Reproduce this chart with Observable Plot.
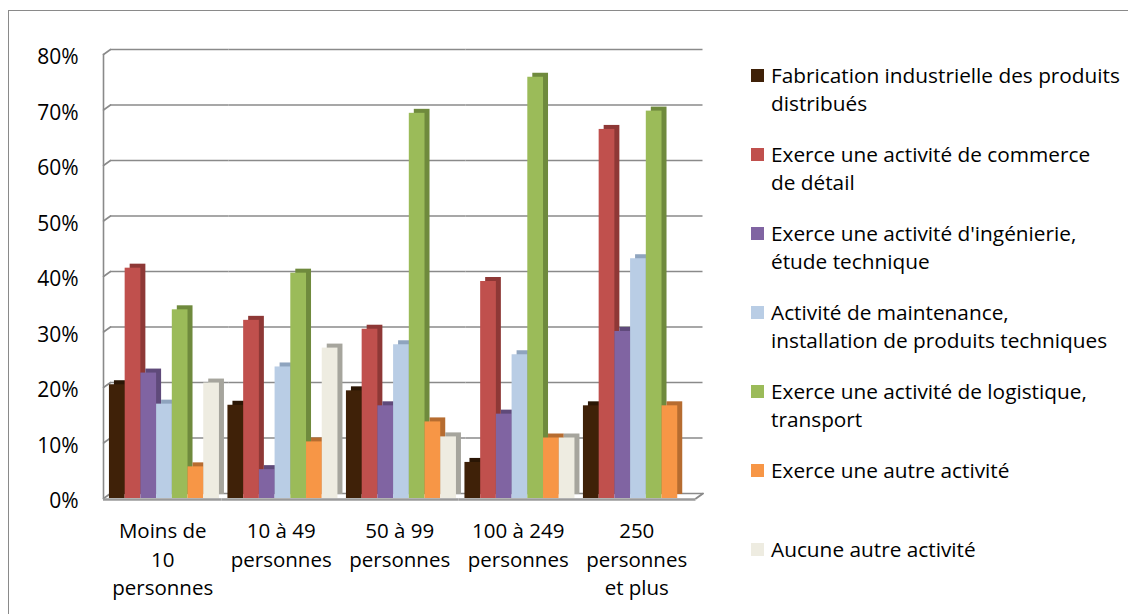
<!DOCTYPE html>
<html>
<head>
<meta charset="utf-8">
<script src="https://cdn.jsdelivr.net/npm/d3@7"></script>
<script src="https://cdn.jsdelivr.net/npm/@observablehq/plot@0.6"></script>
<style>
  html, body { margin: 0; padding: 0; background: #fff; }
  #wrap { position: relative; width: 1128px; height: 614px; overflow: hidden; font-family: "Open Sans", Lato, sans-serif; }
  #wrap > * { position: absolute; }
  .border { left: 8px; top: 10px; width: 1300px; height: 800px; border-left: 1.5px solid #8a8a8a; border-top: 1.5px solid #8a8a8a; }
  .legend-item { font-size: 20.8px; line-height: 28px; color: #000; white-space: pre; }
  .swatch { width: 13px; height: 13px; }
</style>
</head>
<body>
<div id="wrap"></div>
<script>
// ---- data ----
const categories = ["Moins de 10 personnes", "10 à 49 personnes", "50 à 99 personnes", "100 à 249 personnes", "250 personnes et plus"];
const categoryLabels = ["Moins de\n10\npersonnes", "10 à 49\npersonnes", "50 à 99\npersonnes", "100 à 249\npersonnes", "250\npersonnes\net plus"];
const seriesNames = [
  "Fabrication industrielle des produits distribués",
  "Exerce une activité de commerce de détail",
  "Exerce une activité d'ingénierie, étude technique",
  "Activité de maintenance, installation de produits techniques",
  "Exerce une activité de logistique, transport",
  "Exerce une autre activité",
  "Aucune autre activité"
];
const legendLabels = [
  "Fabrication industrielle des produits\ndistribués",
  "Exerce une activité de commerce\nde détail",
  "Exerce une activité d'ingénierie,\nétude technique",
  "Activité de maintenance,\ninstallation de produits techniques",
  "Exerce une activité de logistique,\ntransport",
  "Exerce une autre activité",
  "Aucune autre activité"
];
const fabrication = [20.5, 16.8, 19.4, 6.5, 16.7];
const commerce    = [41.5, 32.1, 30.5, 39.1, 66.5];
const ingenierie  = [22.6, 5.2, 16.7, 15.2, 30.1];
const maintenance = [17.0, 23.7, 27.7, 25.9, 43.2];
const logistique  = [34.0, 40.6, 69.4, 75.9, 69.8];
const autre       = [5.7, 10.2, 13.8, 10.9, 16.7];
const aucune      = [20.8, 27.1, 11.1, 10.9, 0];
const yTicks = [0, 10, 20, 30, 40, 50, 60, 70, 80];
const frontColors = ["#3F2108", "#C0504D", "#8064A2", "#B9CDE5", "#9BBB59", "#F79646", "#EEECE1"];
const sideColors  = ["#2A1605", "#8E3836", "#5F4A7A", "#8FA4BE", "#6F8A3D", "#B66C30", "#A6A59D"];

const seriesValues = [fabrication, commerce, ingenierie, maintenance, logistique, autre, aucune];
const rows = [];
categories.forEach((c, ci) => seriesNames.forEach((s, si) => rows.push({category: c, series: s, value: seriesValues[si][ci], si})));
const wallTicks = yTicks.map(v => ({v, category: categories[0]}));
const floorEnd = [{v: 0, category: categories[categories.length - 1]}];

const gray = "#8a8a8a";
const font = "'Open Sans', Lato, sans-serif";
const W = 1128, H = 614;
const wrap = document.getElementById("wrap");

const border = document.createElement("div");
border.className = "border";
wrap.appendChild(border);

const main = Plot.plot({
  width: W, height: H,
  marginLeft: 103, marginRight: W - 695.5, marginTop: 54, marginBottom: H - 498,
  style: {fontFamily: font, fontSize: "20.5px", background: "transparent", color: "#000"},
  fx: {domain: categories, padding: 0, round: false, axis: null},
  x: {domain: seriesNames, paddingInner: 0, paddingOuter: 0.27, align: 0.7, round: false, axis: null},
  y: {domain: [0, 80], axis: null},
  marks: [
    Plot.ruleY(yTicks, {dx: 7, dy: -5, stroke: gray, strokeWidth: 1.6}),
    Plot.vector(wallTicks, {fx: "category", y: "v", frameAnchor: "left", anchor: "start", length: 8.6, rotate: 54.5, r: 0, stroke: gray, strokeWidth: 1.6}),
    Plot.frame({anchor: "left", facetAnchor: "left", stroke: gray, strokeWidth: 1.6}),
    Plot.axisY(yTicks, {tickFormat: d => d + "%", tickSize: 0, tickPadding: 25, dy: 3, fontSize: 21, fill: "#000"}),
    Plot.barY(rows, {fx: "category", x: "series", y: "value", fill: d => sideColors[d.si], dx: 5, dy: -4, inset: 0}),
    Plot.barY(rows, {fx: "category", x: "series", y: "value", fill: d => frontColors[d.si], inset: 0}),
    Plot.ruleY([0], {stroke: "#9a9a9a", strokeWidth: 2.5, dy: 1}),
    Plot.vector(floorEnd, {fx: "category", y: "v", frameAnchor: "right", anchor: "start", length: 8.6, rotate: 54.5, r: 0, stroke: gray, strokeWidth: 2}),
    Plot.axisFx({anchor: "bottom", tickFormat: d => categoryLabels[categories.indexOf(d)], tickSize: 0, tickPadding: 20, lineHeight: 1.37, fontSize: 20.5, fill: "#000", label: null})
  ]
});
main.style.left = "0px"; main.style.top = "0px";
wrap.appendChild(main);

// legend
seriesNames.forEach((s, i) => {
  const cy = 75 + i * 79;
  const sw = document.createElement("div");
  sw.className = "swatch";
  sw.style.background = frontColors[i];
  sw.style.left = "751px"; sw.style.top = (cy - 6.5) + "px";
  wrap.appendChild(sw);
  const t = document.createElement("div");
  t.className = "legend-item";
  t.textContent = legendLabels[i];
  t.style.left = "771px"; t.style.top = (cy - 14) + "px";
  wrap.appendChild(t);
});
</script>
</body>
</html>
